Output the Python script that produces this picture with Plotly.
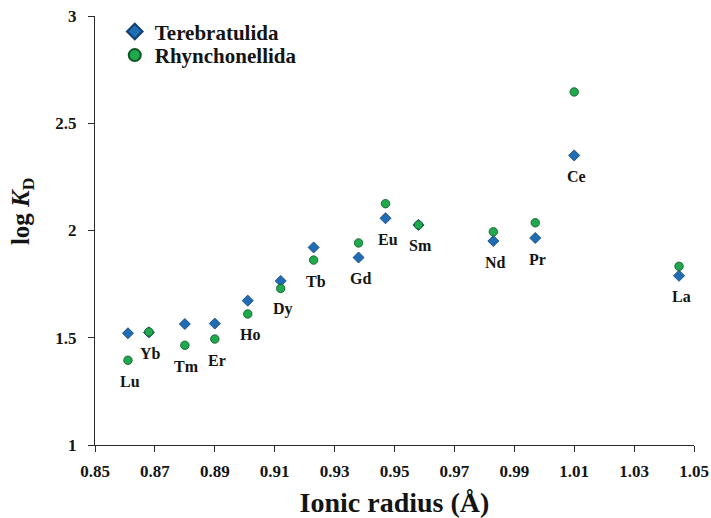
import plotly.graph_objects as go

# Rare earth elements, ionic radius (Å) and log KD for two brachiopod orders
elements = ["Lu", "Yb", "Tm", "Er", "Ho", "Dy", "Tb", "Gd", "Eu", "Sm", "Nd", "Pr", "Ce", "La"]
ionic_radius = [0.861, 0.868, 0.880, 0.890, 0.901, 0.912, 0.923, 0.938, 0.947, 0.958, 0.983, 0.997, 1.010, 1.045]
log_kd_terebratulida = [1.521, 1.525, 1.564, 1.566, 1.673, 1.765, 1.921, 1.874, 2.057, 2.026, 1.951, 1.965, 2.350, 1.789]
log_kd_rhynchonellida = [1.395, 1.527, 1.465, 1.494, 1.611, 1.730, 1.862, 1.942, 2.125, 2.026, 1.994, 2.036, 2.646, 1.833]

x_ticks = [0.85, 0.87, 0.89, 0.91, 0.93, 0.95, 0.97, 0.99, 1.01, 1.03, 1.05]
y_ticks = [1, 1.5, 2, 2.5, 3]

SERIF = "Liberation Serif, Times New Roman, serif"
INK = "#141414"

fig = go.Figure()
fig.add_trace(go.Scatter(
    x=ionic_radius, y=log_kd_terebratulida, mode="markers", name="Terebratulida",
    legend="legend",
    marker=dict(symbol="diamond", size=8.5, color="#1f6db5",
                line=dict(color="#123f6e", width=0.8)),
))
fig.add_trace(go.Scatter(
    x=ionic_radius, y=log_kd_rhynchonellida, mode="markers", name="Rhynchonellida",
    legend="legend2",
    marker=dict(symbol="circle", size=8.5, color="#1fa84c",
                line=dict(color="#0e5526", width=0.8)),
))

# element labels under the lower of the two markers
for el, r, a, b in zip(elements, ionic_radius, log_kd_terebratulida, log_kd_rhynchonellida):
    fig.add_annotation(
        x=r, y=min(a, b), text=el, showarrow=False,
        xshift=2, yshift=-21, yanchor="middle",
        font=dict(family=SERIF, size=16, color=INK, weight="bold"),
    )

# y-axis title, rotated
fig.add_annotation(
    xref="paper", yref="paper", x=-0.122, y=0.545,
    xanchor="center", yanchor="middle", textangle=-90, showarrow=False,
    text="log <i>K</i><sub>D</sub>",
    font=dict(family=SERIF, size=25, color=INK, weight="bold"),
)

axis_common = dict(
    showline=True, linecolor="#2a2a2a", linewidth=1.2,
    ticks="outside", ticklen=6, tickcolor="#2a2a2a", tickwidth=1.2,
    showgrid=False, zeroline=False, automargin=False,
    tickfont=dict(family=SERIF, size=17, color=INK, weight="bold"),
)

legend_common = dict(
    xanchor="left", yanchor="middle", bgcolor="rgba(0,0,0,0)",
    font=dict(family=SERIF, size=21, color=INK, weight="bold"),
    itemsizing="constant",
)

fig.update_layout(
    width=711, height=518,
    margin=dict(l=95, r=17, t=16, b=73, autoexpand=False),
    paper_bgcolor="white", plot_bgcolor="white",
    showlegend=True,
    legend=dict(x=0.033, y=0.963, **legend_common),
    legend2=dict(x=0.033, y=0.908, **legend_common),
    xaxis=dict(
        range=[0.85, 1.05], tickvals=x_ticks,
        ticktext=[f"{v:.2f}" for v in x_ticks],
        ticklabelstandoff=4,
        title=dict(text="Ionic radius (Å)", standoff=12,
                   font=dict(family=SERIF, size=28, color=INK, weight="bold")),
        **axis_common,
    ),
    yaxis=dict(
        range=[1, 3], tickvals=y_ticks,
        ticktext=[f"{v:g}" for v in y_ticks],
        ticklabelstandoff=8,
        **axis_common,
    ),
)

fig.write_html("out.html")
